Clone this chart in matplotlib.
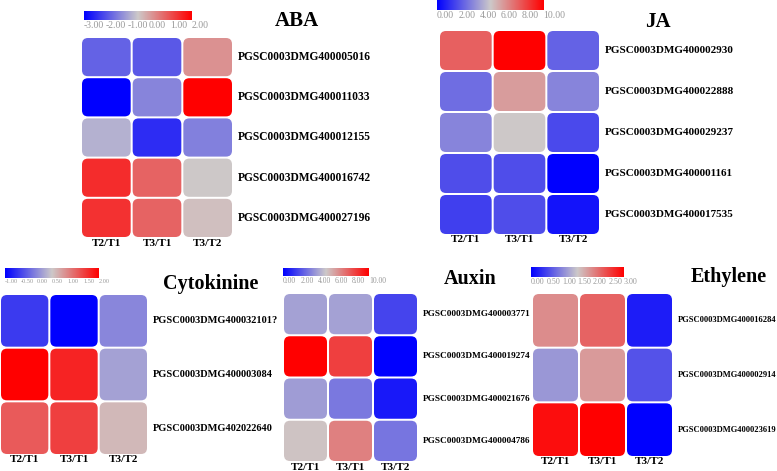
import numpy as np
import matplotlib
matplotlib.use("Agg")
import matplotlib.pyplot as plt
from matplotlib.colors import LinearSegmentedColormap, Normalize
from matplotlib.patches import FancyBboxPatch

plt.rcParams['font.family'] = ['Liberation Serif', 'DejaVu Serif']

cols = ["T2/T1", "T3/T1", "T3/T2"]

aba_genes = ["PGSC0003DMG400005016", "PGSC0003DMG400011033", "PGSC0003DMG400012155",
             "PGSC0003DMG400016742", "PGSC0003DMG400027196"]
aba_vals = [[-1.78, -1.9, 0.2],
            [-3.0, -1.35, 2.0],
            [-0.8, -2.45, -1.4],
            [1.45, 0.75, -0.5],
            [1.38, 0.75, -0.37]]
aba_ticks = [-3, -2, -1, 0, 1, 2]

ja_genes = ["PGSC0003DMG400002930", "PGSC0003DMG400022888", "PGSC0003DMG400029237",
            "PGSC0003DMG400001161", "PGSC0003DMG400017535"]
ja_vals = [[7.6, 10.0, 2.45],
           [2.7, 6.1, 3.3],
           [3.3, 5.0, 1.8],
           [1.95, 1.95, 0.0],
           [1.6, 1.95, 0.5]]
ja_ticks = [0, 2, 4, 6, 8, 10]

cyt_genes = ["PGSC0003DMG400032101?", "PGSC0003DMG400003084", "PGSC0003DMG402022640"]
cyt_vals = [[-0.56, -1.0, 0.0],
            [2.0, 1.74, 0.2],
            [1.33, 1.52, 0.62]]
cyt_ticks = [-1.0, -0.5, 0.0, 0.5, 1.0, 1.5, 2.0]

aux_genes = ["PGSC0003DMG400003771", "PGSC0003DMG400019274", "PGSC0003DMG400021676",
             "PGSC0003DMG400004786"]
aux_vals = [[4.0, 4.0, 1.7],
            [10.0, 8.4, 0.0],
            [3.9, 3.0, 0.6],
            [5.15, 6.8, 2.9]]
aux_ticks = [0, 2, 4, 6, 8, 10]

eth_genes = ["PGSC0003DMG400016284", "PGSC0003DMG400002914", "PGSC0003DMG400023619"]
eth_vals = [[1.95, 2.25, 0.22],
            [1.13, 1.84, 0.62],
            [2.9, 3.0, 0.0]]
eth_ticks = [0, 0.5, 1.0, 1.5, 2.0, 2.5, 3.0]

cmap = LinearSegmentedColormap.from_list("bgr", ["#0000FF", "#CDC9C9", "#FF0000"])

W, H = 777, 471
fig = plt.figure(figsize=(W / 100, H / 100), dpi=100)


def px_axes(x0, y0, x1, y1):
    return fig.add_axes([x0 / W, 1 - y1 / H, (x1 - x0) / W, (y1 - y0) / H])


def panel(title, genes, vals, ticks, hm, cb, lab_fs, title_xy, tick_fs, col_y, title_fs=14.5):
    vals = np.array(vals)
    nr, nc = vals.shape
    x0, y0, x1, y1 = hm
    ax = px_axes(x0, y0, x1, y1)
    ax.set_xlim(0, nc)
    ax.set_ylim(nr, 0)
    ax.axis('off')
    cw = (x1 - x0) / nc
    ch = (y1 - y0) / nr
    norm = Normalize(ticks[0], ticks[-1])
    gx = 1.0 / cw
    gy = 1.0 / ch
    r = 6.0 / cw
    for i in range(nr):
        for j in range(nc):
            p = FancyBboxPatch((j + gx, i + gy), 1 - 2 * gx, 1 - 2 * gy,
                               boxstyle="round,pad=0,rounding_size=%f" % r,
                               mutation_aspect=cw / ch,
                               facecolor=cmap(norm(vals[i, j])), edgecolor='none')
            ax.add_patch(p)
    for i, g in enumerate(genes):
        fig.text((x1 + 5) / W, 1 - (y0 + (i + 0.5) * ch) / H, g, fontsize=lab_fs,
                 fontweight='bold', ha='left', va='center')
    for j, c in enumerate(cols):
        fig.text((x0 + (j + 0.5) * cw) / W, 1 - col_y / H, c, fontsize=8,
                 fontweight='bold', ha='center', va='center')
    # colorbar
    bx0, by0, bx1, by1 = cb
    cax = px_axes(bx0, by0, bx1, by1)
    grad = np.linspace(ticks[0], ticks[-1], 256).reshape(1, -1)
    cax.imshow(grad, cmap=cmap, norm=norm, aspect='auto',
               extent=[ticks[0], ticks[-1], 0, 1])
    cax.set_yticks([])
    cax.set_xticks(ticks)
    cax.set_xticklabels(["%.2f" % t for t in ticks], fontsize=tick_fs, color='#999999',
                        ha='left')
    cax.tick_params(axis='x', length=0, pad=1)
    for s in cax.spines.values():
        s.set_visible(False)
    fig.text(title_xy[0] / W, 1 - title_xy[1] / H, title, fontsize=title_fs,
             fontweight='bold', ha='center', va='center')


panel("ABA", aba_genes, aba_vals, aba_ticks, (81, 37, 233, 238), (84, 11, 192, 20),
      8.3, (297, 21), 7, 244, title_fs=15)
panel("JA", ja_genes, ja_vals, ja_ticks, (439, 30, 600, 235), (437, 0, 543, 10),
      8.0, (658, 22), 7, 240, title_fs=15)
panel("Cytokinine", cyt_genes, cyt_vals, cyt_ticks, (0, 294, 148, 455), (5, 268, 99, 278),
      7.5, (211, 284), 4.5, 460)
panel("Auxin", aux_genes, aux_vals, aux_ticks, (283, 293, 418, 462), (283, 268, 369, 276),
      6.7, (470, 279), 5.5, 467)
panel("Ethylene", eth_genes, eth_vals, eth_ticks, (532, 293, 673, 457), (531, 267, 624, 277),
      6.1, (729, 277), 5.8, 462)

fig.savefig("out.png", dpi=100)
